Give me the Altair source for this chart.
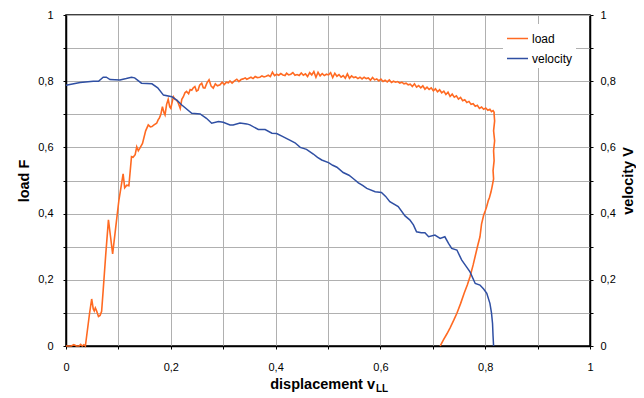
import altair as alt
import pandas as pd

FONT = "Liberation Sans"
ORANGE = "#ff6a22"
BLUE = "#2f4fa3"

# ---- data ----
load_disp = [0.000, 0.010, 0.015, 0.020, 0.025, 0.028, 0.031, 0.034, 0.037,
             0.045, 0.049, 0.052, 0.054, 0.056, 0.058, 0.062, 0.065, 0.068, 0.071, 0.076, 0.081, 0.085, 0.089,
             0.095, 0.101, 0.106, 0.109, 0.112, 0.116, 0.120, 0.125, 0.128, 0.132, 0.135, 0.138, 0.141, 0.146,
             0.152, 0.157, 0.161, 0.164, 0.168, 0.173, 0.176, 0.178, 0.181, 0.184, 0.187, 0.189, 0.192, 0.195,
             0.198, 0.200, 0.203, 0.205, 0.208, 0.211, 0.214, 0.218, 0.221, 0.224, 0.227, 0.230, 0.234, 0.237,
             0.240, 0.243, 0.246, 0.249, 0.252, 0.255, 0.259, 0.262, 0.265, 0.269, 0.273, 0.277, 0.281, 0.285,
             0.289, 0.294, 0.298, 0.302, 0.306, 0.310, 0.313, 0.317, 0.321, 0.326, 0.330, 0.334, 0.338, 0.342,
             0.345, 0.349, 0.353, 0.357, 0.361, 0.365, 0.370, 0.374, 0.378, 0.382, 0.386, 0.390, 0.394, 0.398,
             0.402, 0.406, 0.410, 0.414, 0.418, 0.421, 0.425, 0.429, 0.433, 0.437, 0.441, 0.445, 0.449, 0.453,
             0.457, 0.461, 0.465, 0.469, 0.473, 0.477, 0.481, 0.485, 0.489, 0.493, 0.497, 0.501, 0.505, 0.509,
             0.513, 0.517, 0.521, 0.525, 0.529, 0.533, 0.537, 0.541, 0.545, 0.549, 0.553, 0.557, 0.561, 0.565,
             0.569, 0.573, 0.577, 0.581, 0.585, 0.589, 0.593, 0.597, 0.601, 0.605, 0.609, 0.613, 0.617, 0.621,
             0.625, 0.629, 0.633, 0.637, 0.641, 0.645, 0.649, 0.653, 0.657, 0.661, 0.665, 0.669, 0.673, 0.677,
             0.681, 0.685, 0.689, 0.693, 0.697, 0.701, 0.705, 0.709, 0.713, 0.717, 0.721, 0.725, 0.729, 0.733,
             0.737, 0.741, 0.745, 0.749, 0.753, 0.757, 0.761, 0.765, 0.769, 0.773, 0.777, 0.781, 0.785, 0.789,
             0.793, 0.797, 0.801, 0.805, 0.809, 0.812, 0.815, 0.817,
             0.817, 0.818, 0.816, 0.818, 0.816, 0.817, 0.815, 0.816, 0.813, 0.811, 0.808, 0.806, 0.803, 0.800,
             0.797, 0.793, 0.790, 0.786, 0.781, 0.777, 0.771, 0.766, 0.760, 0.753, 0.746, 0.740, 0.733, 0.727,
             0.720, 0.716, 0.714]
load_force = [0.000, 0.000, 0.004, 0.000, 0.000, 0.005, 0.000, 0.004, 0.000,
              0.099, 0.142, 0.112, 0.106, 0.115, 0.108, 0.089, 0.092, 0.105, 0.169, 0.280, 0.381, 0.330, 0.278,
              0.360, 0.441, 0.490, 0.520, 0.478, 0.486, 0.484, 0.572, 0.570, 0.578, 0.602, 0.590, 0.598, 0.612,
              0.650, 0.668, 0.662, 0.663, 0.668, 0.673, 0.684, 0.688, 0.700, 0.723, 0.705, 0.698, 0.730, 0.745,
              0.722, 0.718, 0.740, 0.753, 0.745, 0.743, 0.735, 0.718, 0.745, 0.753, 0.765, 0.769, 0.762, 0.775,
              0.773, 0.780, 0.784, 0.770, 0.773, 0.788, 0.794, 0.780, 0.779, 0.795, 0.804, 0.785, 0.779, 0.792,
              0.786, 0.789, 0.797, 0.790, 0.797, 0.795, 0.801, 0.794, 0.800, 0.806, 0.799, 0.805, 0.807, 0.810,
              0.806, 0.809, 0.812, 0.808, 0.814, 0.811, 0.812, 0.816, 0.813, 0.815, 0.818, 0.814, 0.827, 0.817,
              0.821, 0.818, 0.823, 0.819, 0.817, 0.824, 0.819, 0.821, 0.826, 0.818, 0.820, 0.817, 0.825, 0.818,
              0.822, 0.814, 0.826, 0.819, 0.829, 0.812, 0.827, 0.816, 0.823, 0.817, 0.821, 0.819, 0.826, 0.811,
              0.824, 0.815, 0.820, 0.812, 0.817, 0.809, 0.822, 0.809, 0.816, 0.811, 0.813, 0.808, 0.812, 0.807,
              0.812, 0.808, 0.810, 0.803, 0.811, 0.804, 0.807, 0.801, 0.806, 0.799, 0.803, 0.798, 0.804, 0.796,
              0.800, 0.797, 0.799, 0.794, 0.797, 0.792, 0.794, 0.789, 0.791, 0.784, 0.792, 0.782, 0.787, 0.780,
              0.786, 0.776, 0.782, 0.775, 0.780, 0.771, 0.777, 0.768, 0.774, 0.765, 0.770, 0.760, 0.767, 0.754,
              0.761, 0.752, 0.756, 0.746, 0.751, 0.741, 0.744, 0.736, 0.739, 0.730, 0.732, 0.724, 0.727, 0.718,
              0.722, 0.715, 0.719, 0.712, 0.715, 0.708, 0.711, 0.706,
              0.700, 0.680, 0.650, 0.620, 0.590, 0.560, 0.530, 0.505, 0.480, 0.465, 0.448, 0.440, 0.422, 0.408,
              0.395, 0.368, 0.330, 0.305, 0.272, 0.245, 0.209, 0.185, 0.160, 0.128, 0.099, 0.078, 0.055, 0.037,
              0.018, 0.006, 0.000]

vel_disp = [0.000, 0.027, 0.052, 0.062, 0.071, 0.077, 0.084, 0.103, 0.115, 0.125, 0.131, 0.144, 0.164, 0.175,
            0.186, 0.202, 0.212, 0.221, 0.240, 0.256, 0.268, 0.278, 0.291, 0.300, 0.313, 0.319, 0.332, 0.345,
            0.351, 0.367, 0.380, 0.393, 0.402, 0.412, 0.427, 0.437, 0.447, 0.459, 0.472, 0.480, 0.488, 0.501,
            0.509, 0.517, 0.529, 0.540, 0.548, 0.558, 0.566, 0.574, 0.590, 0.602, 0.610, 0.618, 0.634, 0.647,
            0.656, 0.663, 0.669, 0.678, 0.685, 0.692, 0.704, 0.714, 0.723, 0.730, 0.736, 0.746, 0.755, 0.763,
            0.771, 0.781, 0.790, 0.797, 0.803, 0.809, 0.812, 0.814, 0.815, 0.816]
vel_speed = [0.788, 0.796, 0.800, 0.800, 0.812, 0.812, 0.805, 0.804, 0.808, 0.812, 0.810, 0.794, 0.792, 0.780,
             0.758, 0.753, 0.742, 0.728, 0.703, 0.701, 0.688, 0.673, 0.678, 0.676, 0.668, 0.668, 0.674, 0.671,
             0.668, 0.654, 0.654, 0.643, 0.642, 0.634, 0.622, 0.614, 0.600, 0.594, 0.580, 0.570, 0.562, 0.554,
             0.546, 0.540, 0.524, 0.516, 0.506, 0.493, 0.485, 0.476, 0.466, 0.464, 0.452, 0.436, 0.421, 0.393,
             0.381, 0.366, 0.345, 0.342, 0.342, 0.330, 0.335, 0.325, 0.330, 0.310, 0.295, 0.290, 0.260, 0.242,
             0.224, 0.189, 0.184, 0.172, 0.159, 0.129, 0.100, 0.068, 0.030, 0.000]

tick_values = [0.0, 0.1, 0.2, 0.3, 0.4, 0.5, 0.6, 0.7, 0.8, 0.9, 1.0]
series_names = ["load", "velocity"]
series_colors = [ORANGE, BLUE]

load_df = pd.DataFrame({"disp": load_disp, "val": load_force, "series": "load",
                        "idx": list(range(len(load_disp)))})
vel_df = pd.DataFrame({"disp": vel_disp, "val": vel_speed, "series": "velocity",
                       "idx": list(range(len(vel_disp)))})

label_expr = ("round(datum.value*10) % 2 == 0 ? "
              "replace(format(datum.value, '~g'), '.', ',') : ''")

W, H = 524, 331

x_enc = alt.X("disp:Q", scale=alt.Scale(domain=[0, 1], nice=False),
              axis=alt.Axis(values=tick_values, labelExpr=label_expr, title=None,
                            grid=True, labelFlush=False, labelPadding=12, tickSize=3))

color_enc = alt.Color("series:N",
                      scale=alt.Scale(domain=series_names, range=series_colors),
                      legend=alt.Legend(orient="none", legendX=437, legendY=9, title=None,
                                        symbolType="stroke", symbolSize=441,
                                        symbolStrokeWidth=1.5, labelFontSize=12,
                                        labelOffset=3, rowPadding=2, padding=3,
                                        fillColor="white", labelFont=FONT,
                                        labelColor="black"))

load_layer = alt.Chart(load_df).mark_line(strokeWidth=1.6).encode(
    x=x_enc,
    y=alt.Y("val:Q", scale=alt.Scale(domain=[0, 1], nice=False),
            axis=alt.Axis(orient="left", values=tick_values, labelExpr=label_expr,
                          title="load F", grid=True, labelPadding=10, tickSize=3,
                          titleX=-42, titleY=H / 2, titleAngle=270, titleAlign="center",
                          titleBaseline="middle")),
    color=color_enc,
    order="idx:Q",
)

vel_layer = alt.Chart(vel_df).mark_line(strokeWidth=1.5).encode(
    x=x_enc,
    y=alt.Y("val:Q", scale=alt.Scale(domain=[0, 1], nice=False),
            axis=alt.Axis(orient="right", values=tick_values, labelExpr=label_expr,
                          title="velocity V", grid=False, labelPadding=7, tickSize=3,
                          titleX=38, titleY=H / 2, titleAngle=270, titleAlign="center",
                          titleBaseline="middle")),
    color=color_enc,
    order="idx:Q",
)

xtitle_main = alt.Chart(pd.DataFrame({"t": ["displacement v"]})).mark_text(
    align="right", baseline="alphabetic", fontSize=14.5, fontWeight="bold",
    font=FONT, color="black").encode(x=alt.value(309), y=alt.value(374), text="t:N")

xtitle_sub = alt.Chart(pd.DataFrame({"t": ["LL"]})).mark_text(
    align="left", baseline="alphabetic", fontSize=10, fontWeight="bold",
    font=FONT, color="black").encode(x=alt.value(310), y=alt.value(377), text="t:N")

chart = alt.layer(load_layer, vel_layer, xtitle_main, xtitle_sub).resolve_scale(
    y="independent"
).properties(
    width=W, height=H,
    autosize=alt.AutoSizeParams(type="none"),
    padding={"left": 58, "top": 7, "right": 46, "bottom": 48},
).configure(font=FONT).configure_view(
    stroke="black", strokeWidth=1.5
).configure_axis(
    domainColor="black", domainWidth=1.5, tickColor="black", tickWidth=1,
    gridColor="#b0b0b0", gridWidth=1, labelFont=FONT, labelFontSize=11,
    labelColor="black", titleFont=FONT, titleFontSize=14.5, titleFontWeight="bold",
    titleColor="black",
)

chart.save("out.html", embed_options={"renderer": "svg", "actions": False})
